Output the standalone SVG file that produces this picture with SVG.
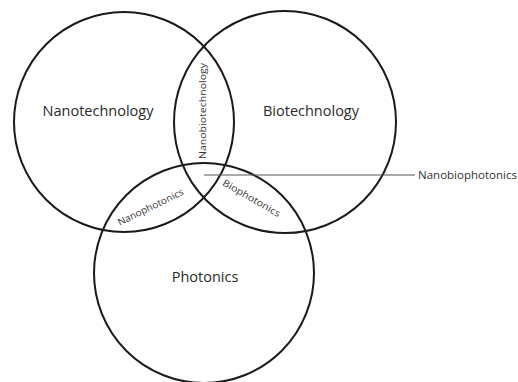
<svg xmlns="http://www.w3.org/2000/svg" width="518" height="382" viewBox="0 0 518 382">
<style>
.c{fill:none;stroke:#1a1a1a;stroke-width:2}
.big{font-family:"Open Sans","Liberation Sans",sans-serif;font-size:14.5px;fill:#2a2a2a;text-anchor:middle}
.sm{font-family:"Open Sans","Liberation Sans",sans-serif;font-size:9.5px;fill:#333;text-anchor:middle}
</style>
<rect width="518" height="382" fill="#fff"/>
<g id="nanotechnology">
<circle class="c" cx="124" cy="122" r="110"/>
<text class="big" x="98" y="116">Nanotechnology</text>
</g>
<g id="biotechnology">
<circle class="c" cx="285" cy="122" r="111"/>
<text class="big" x="311" y="116">Biotechnology</text>
</g>
<g id="photonics">
<circle class="c" cx="204" cy="273" r="110"/>
<text class="big" x="205" y="282">Photonics</text>
</g>
<g id="nanobiotechnology">
<text class="sm" transform="translate(206,111) rotate(-90)" textLength="96" lengthAdjust="spacingAndGlyphs">Nanobiotechnology</text>
</g>
<g id="nanophotonics">
<text class="sm" transform="translate(152,210) rotate(-26)" textLength="72" lengthAdjust="spacingAndGlyphs">Nanophotonics</text>
</g>
<g id="biophotonics">
<text class="sm" transform="translate(250,201) rotate(30)" textLength="65" lengthAdjust="spacingAndGlyphs">Biophotonics</text>
</g>
<g id="connectors">
<line x1="204" y1="175" x2="415" y2="175" stroke="#555" stroke-width="1"/>
</g>
<g id="nanobiophotonics">
<text class="sm" x="418" y="179" style="text-anchor:start;font-size:10.5px" textLength="99" lengthAdjust="spacingAndGlyphs">Nanobiophotonics</text>
</g>
</svg>
